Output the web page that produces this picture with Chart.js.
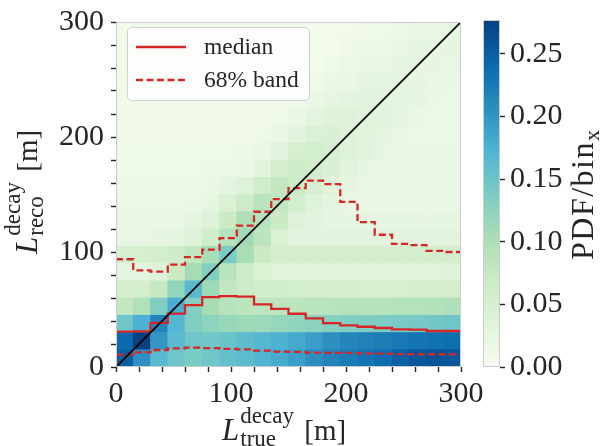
<!DOCTYPE html>
<html>
<head>
<meta charset="utf-8">
<script src="https://cdn.jsdelivr.net/npm/chart.js@4.4.0/dist/chart.umd.min.js"></script>
<style>
html,body{margin:0;padding:0;background:#fff;}
#wrap{position:relative;width:602px;height:446px;overflow:hidden;}
canvas{position:absolute;left:0;top:0;}
.t{position:absolute;font-family:"Liberation Serif",serif;color:#262626;white-space:nowrap;font-size:31px;line-height:31px;}
.t .L{font-style:italic;}
.t .ss{display:inline-block;position:relative;height:0;width:55px;}
.t .sp,.t .sb{position:absolute;left:1px;font-size:23px;line-height:23px;}
.t .sp{bottom:13px;}
.t .sb{bottom:-10px;}
.t .u{font-size:29px;margin-left:10px;}
#ytitle{transform-origin:left top;transform:rotate(-90deg);}
#ctitle{font-size:32px;line-height:32px;letter-spacing:1.5px;transform-origin:left top;transform:rotate(-90deg);}
#ctitle .x{font-size:22px;position:relative;top:6px;letter-spacing:0;}
#legend{position:absolute;left:127px;top:27px;width:183px;height:74px;box-sizing:border-box;border:1px solid #d0d0d0;border-radius:5px;background:rgba(255,255,255,0.8);font-family:"Liberation Serif",serif;font-size:23.5px;color:#262626;}
#legend svg{position:absolute;left:8px;}
#legend span{position:absolute;left:76px;line-height:24px;}
</style>
</head>
<body>
<div id="wrap">
  <canvas id="main" width="602" height="446"></canvas>
  <canvas id="cbar" width="602" height="446"></canvas>

  <div id="legend">
    <svg style="top:16px" width="52" height="6"><line x1="0" y1="3" x2="50" y2="3" stroke="#d62728" stroke-width="2.3"/></svg>
    <span style="top:6px">median</span>
    <svg style="top:49px" width="52" height="6"><line x1="0" y1="3" x2="50" y2="3" stroke="#d62728" stroke-width="2.3" stroke-dasharray="7 3.5"/></svg>
    <span style="top:39px">68% band</span>
  </div>

  <div class="t" id="xtitle" style="left:222px;top:414px"><span class="L">L</span><span class="ss"><span class="sp">decay</span><span class="sb">true</span></span><span class="u">[m]</span></div>
  <div class="t" id="ytitle" style="left:11px;top:254px"><span class="L">L</span><span class="ss"><span class="sp">decay</span><span class="sb">reco</span></span><span class="u">[m]</span></div>
  <div class="t" id="ctitle" style="left:566px;top:260px">PDF/bin<span class="x">x</span></div>
</div>

<script>
// ======================================
// DATA
// ======================================

// bin edges (m), same for true and reco
const binEdges = [0,15,30,45,60,75,90,105,120,135,150,165,180,195,210,225,240,255,270,285,300];

// PDF / bin_x, one row per reco bin (row 0 = 0-15 m), one value per true bin
const pdf = [
  [0.250,0.205,0.165,0.148,0.140,0.147,0.155,0.162,0.170,0.180,0.192,0.206,0.215,0.224,0.230,0.237,0.248,0.255,0.260,0.257],
  [0.240,0.277,0.200,0.163,0.148,0.147,0.153,0.160,0.167,0.174,0.182,0.192,0.205,0.214,0.218,0.222,0.226,0.230,0.232,0.236],
  [0.147,0.175,0.215,0.168,0.135,0.125,0.117,0.113,0.113,0.118,0.122,0.126,0.130,0.134,0.137,0.138,0.140,0.142,0.145,0.148],
  [0.080,0.095,0.135,0.178,0.132,0.105,0.090,0.085,0.083,0.083,0.085,0.087,0.088,0.090,0.090,0.090,0.092,0.092,0.094,0.096],
  [0.055,0.057,0.075,0.120,0.165,0.112,0.078,0.068,0.060,0.060,0.058,0.056,0.055,0.055,0.054,0.054,0.054,0.055,0.056,0.057],
  [0.028,0.028,0.036,0.069,0.106,0.134,0.088,0.064,0.045,0.035,0.035,0.035,0.035,0.035,0.034,0.034,0.034,0.035,0.035,0.036],
  [0.052,0.052,0.058,0.064,0.078,0.104,0.140,0.104,0.069,0.055,0.055,0.055,0.055,0.055,0.055,0.055,0.055,0.055,0.055,0.055],
  [0.022,0.022,0.024,0.028,0.040,0.060,0.090,0.110,0.085,0.045,0.030,0.030,0.030,0.030,0.030,0.030,0.030,0.030,0.030,0.030],
  [0.018,0.018,0.018,0.020,0.024,0.040,0.070,0.098,0.090,0.070,0.040,0.030,0.025,0.024,0.024,0.024,0.024,0.024,0.024,0.024],
  [0.016,0.016,0.016,0.017,0.018,0.025,0.045,0.068,0.088,0.080,0.058,0.036,0.026,0.022,0.020,0.020,0.020,0.020,0.020,0.020],
  [0.014,0.014,0.014,0.014,0.015,0.018,0.026,0.038,0.062,0.078,0.068,0.052,0.036,0.026,0.022,0.020,0.020,0.020,0.020,0.020],
  [0.013,0.013,0.013,0.013,0.013,0.014,0.016,0.020,0.034,0.055,0.068,0.060,0.046,0.033,0.025,0.019,0.019,0.019,0.019,0.019],
  [0.012,0.012,0.012,0.012,0.012,0.012,0.012,0.014,0.020,0.032,0.050,0.058,0.052,0.040,0.030,0.024,0.018,0.018,0.018,0.018],
  [0.011,0.011,0.011,0.011,0.011,0.011,0.011,0.011,0.013,0.020,0.030,0.043,0.046,0.040,0.034,0.028,0.022,0.017,0.017,0.017],
  [0.011,0.011,0.011,0.011,0.011,0.011,0.011,0.011,0.011,0.013,0.020,0.028,0.036,0.037,0.034,0.030,0.026,0.020,0.016,0.016],
  [0.010,0.010,0.010,0.010,0.010,0.010,0.010,0.010,0.010,0.010,0.013,0.020,0.025,0.029,0.031,0.031,0.028,0.024,0.019,0.016],
  [0.010,0.010,0.010,0.010,0.010,0.010,0.010,0.010,0.010,0.010,0.010,0.013,0.018,0.022,0.026,0.028,0.029,0.027,0.023,0.019],
  [0.009,0.009,0.009,0.009,0.009,0.009,0.009,0.009,0.009,0.009,0.009,0.009,0.012,0.016,0.019,0.023,0.026,0.027,0.025,0.022],
  [0.008,0.008,0.008,0.008,0.008,0.008,0.008,0.008,0.008,0.008,0.008,0.008,0.008,0.011,0.014,0.017,0.021,0.024,0.025,0.024],
  [0.008,0.008,0.008,0.008,0.008,0.008,0.008,0.008,0.008,0.008,0.008,0.008,0.008,0.008,0.010,0.013,0.016,0.020,0.023,0.024]
];

// per true bin: median and 68% band of reco (m)
const median = [30.8,30.9,38.3,46.4,53.8,60.7,61.7,61.2,54.5,50.5,46.3,42.2,38.2,36.2,35.0,33.9,32.8,32.5,31.3,31.3];
const band16 = [10.8,12.8,14.8,16.2,16.8,16.5,15.8,15.4,14.3,13.4,13.1,12.5,12.3,12.2,11.8,11.7,11.2,11.1,11.1,11.0];
const band84 = [93.7,84.0,83.0,89.0,95.5,102.0,112.0,123.0,135.0,146.0,155.5,162.0,159.0,143.6,126.0,115.0,107.0,106.0,101.0,100.0];

// axis tick labels
const axisTicks = [0,100,200,300];
const cbarTicks = [0.00,0.05,0.10,0.15,0.20,0.25];

// ======================================
// COLOURS
// ======================================

const gnbu = [
  [247,252,240],[224,243,219],[204,235,197],[168,221,181],[123,204,196],
  [78,179,211],[43,140,190],[8,104,172],[8,64,129]
];

const vmax = Math.max(...pdf.flat());

function colorFor(v){
  let t = Math.min(Math.max(v / vmax, 0), 1) * (gnbu.length - 1);
  let i = Math.min(Math.floor(t), gnbu.length - 2);
  let f = t - i;
  const c = gnbu[i].map((a,k)=> Math.round(a + (gnbu[i+1][k] - a) * f));
  return "rgb(" + c.join(",") + ")";
}

const RED = "#d62728";
const FONT = "'Liberation Serif', serif";
const INK = "#262626";

// ======================================
// DATASETS
// ======================================

const datasets = [];

// step lines: a point at each left edge, then the last right edge
function stepData(values){
  const pts = values.map((v,i)=>({x: binEdges[i], y: v}));
  pts.push({x: binEdges[binEdges.length-1], y: values[values.length-1]});
  return pts;
}

datasets.push({
  type:"line",
  data:[{x:binEdges[0], y:binEdges[0]}, {x:binEdges[20], y:binEdges[20]}],
  borderColor:"#000", borderWidth:1.8, pointRadius:0, order:0
});

datasets.push({
  type:"line", data:stepData(median), stepped:"before",
  borderColor:RED, borderWidth:2.3, pointRadius:0, order:1
});

[band16, band84].forEach(band=>{
  datasets.push({
    type:"line", data:stepData(band), stepped:"before",
    borderColor:RED, borderWidth:2.3, borderDash:[7,3.5], pointRadius:0, order:1
  });
});

// heatmap cells: one floating-bar dataset per reco bin
pdf.forEach((row, r)=>{
  datasets.push({
    type:"bar",
    data: row.map((v,c)=>({
      x:(binEdges[c] + binEdges[c+1]) / 2,
      y:[binEdges[r], binEdges[r+1]]
    })),
    backgroundColor: row.map(colorFor),
    borderWidth:0,
    barPercentage:1,
    categoryPercentage:1,
    grouped:false,
    order:5
  });
});

// ======================================
// MAIN CHART
// ======================================

const framePlugin = {
  id:"frame",
  afterDatasetsDraw(chart){
    const {ctx, chartArea:a} = chart;
    ctx.save();
    ctx.strokeStyle = "#cccccc";
    ctx.lineWidth = 1;
    ctx.strokeRect(a.left + 0.5, a.top + 0.5, a.width - 1, a.height - 1);
    ctx.restore();
  }
};

function axisOpts(fitFn){
  return {
    type:"linear", min:binEdges[0], max:binEdges[20], offset:false,
    grid:{offset:false, drawOnChartArea:false, tickLength:5, tickColor:INK, tickWidth:1.4},
    border:{display:false},
    ticks:{
      stepSize:20, autoSkip:false, maxRotation:0, padding:7, color:INK,
      font:{family:FONT, size:30, lineHeight:1},
      callback:v=> axisTicks.includes(v) ? String(v) : ""
    },
    afterFit:fitFn
  };
}

new Chart(document.getElementById("main"), {
  type:"bar",
  data:{datasets},
  options:{
    responsive:false,
    animation:false,
    events:[],
    layout:{padding:{left:0, right:141, top:16, bottom:0}},
    plugins:{legend:{display:false}, tooltip:{enabled:false}},
    scales:{
      x:axisOpts(s=>{ s.height = 79; }),
      y:axisOpts(s=>{ s.width = 116; })
    }
  },
  plugins:[framePlugin]
});

// ======================================
// COLORBAR
// ======================================

const cbarPlugin = {
  id:"cbarFill",
  beforeDatasetsDraw(chart){
    const {ctx, chartArea:a, scales:{y}} = chart;
    const g = ctx.createLinearGradient(0, y.getPixelForValue(0), 0, y.getPixelForValue(vmax));
    gnbu.forEach((c,i)=> g.addColorStop(i / (gnbu.length - 1), "rgb(" + c.join(",") + ")"));
    ctx.save();
    ctx.fillStyle = g;
    ctx.fillRect(a.left, a.top, a.width, a.height);
    ctx.strokeStyle = "#cccccc";
    ctx.lineWidth = 1;
    ctx.strokeRect(a.left + 0.5, a.top + 0.5, a.width - 1, a.height - 1);
    ctx.restore();
  }
};

new Chart(document.getElementById("cbar"), {
  type:"scatter",
  data:{datasets:[{data:[]}]},
  options:{
    responsive:false,
    animation:false,
    events:[],
    layout:{padding:{left:483, right:0, top:16, bottom:79}},
    plugins:{legend:{display:false}, tooltip:{enabled:false}},
    scales:{
      x:{display:false, min:0, max:1},
      y:{
        position:"right", min:0, max:vmax,
        grid:{drawOnChartArea:false, tickLength:5, tickColor:INK, tickWidth:1.4},
        border:{display:false},
        ticks:{
          stepSize:0.05, includeBounds:false, padding:5, color:INK,
          font:{family:FONT, size:30, lineHeight:1},
          callback:v=>{
            const hit = cbarTicks.find(t=> Math.abs(t - v) < 1e-9);
            return hit === undefined ? "" : hit.toFixed(2);
          }
        },
        afterFit:s=>{ s.width = 102; }
      }
    }
  },
  plugins:[cbarPlugin]
});
</script>
</body>
</html>
